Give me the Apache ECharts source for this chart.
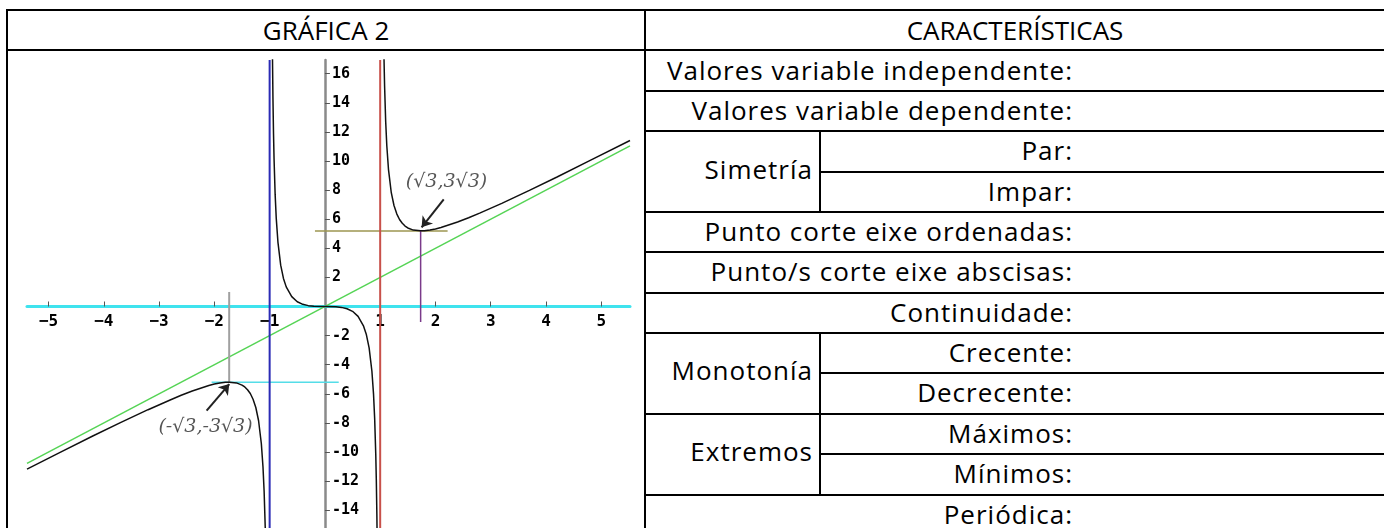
<!DOCTYPE html>
<html>
<head>
<meta charset="utf-8">
<title>Gráfica 2</title>
<script src="https://cdn.jsdelivr.net/npm/echarts@6.0.0/dist/echarts.min.js"></script>
<style>
  body { margin: 0; background: #fff; }
  #page { position: relative; width: 1384px; height: 528px; overflow: hidden; background: #fff; }
  .hl, .vl { position: absolute; background: #000; }
  .hl { height: 2px; }
  .vl { width: 2px; }
  .txt {
    position: absolute; height: 40px; line-height: 40px;
    font-family: "Open Sans", sans-serif; font-size: 26px; letter-spacing: 1px; color: #000;
    white-space: nowrap;
  }
  .center { text-align: center; letter-spacing: 0; }
  .right { text-align: right; }
  #main { position: absolute; left: 8px; top: 51px; width: 636px; height: 477px; }
</style>
</head>
<body>
<div id="page">
  <!-- borders -->
  <div class="hl" style="left:6px;top:9px;width:1378px"></div>
  <div class="hl" style="left:6px;top:49px;width:1378px"></div>
  <div class="vl" style="left:6px;top:9px;height:519px"></div>
  <div class="vl" style="left:644px;top:9px;height:519px"></div>
  <div class="hl" style="left:644px;top:90px;width:740px"></div>
  <div class="hl" style="left:644px;top:130px;width:740px"></div>
  <div class="hl" style="left:820px;top:171px;width:564px"></div>
  <div class="hl" style="left:644px;top:211px;width:740px"></div>
  <div class="hl" style="left:644px;top:251px;width:740px"></div>
  <div class="hl" style="left:644px;top:292px;width:740px"></div>
  <div class="hl" style="left:644px;top:332px;width:740px"></div>
  <div class="hl" style="left:820px;top:372px;width:564px"></div>
  <div class="hl" style="left:644px;top:413px;width:740px"></div>
  <div class="hl" style="left:820px;top:453px;width:564px"></div>
  <div class="hl" style="left:644px;top:494px;width:740px"></div>
  <div class="vl" style="left:819px;top:130px;height:83px"></div>
  <div class="vl" style="left:819px;top:332px;height:164px"></div>

  <!-- header -->
  <div class="txt center" style="left:8px;top:10px;width:636px">GRÁFICA 2</div>
  <div class="txt center" style="left:646px;top:10px;width:738px">CARACTERÍSTICAS</div>

  <!-- rows -->
  <div class="txt right" style="left:646px;top:50px;width:427px">Valores variable independente:</div>
  <div class="txt right" style="left:646px;top:90px;width:427px">Valores variable dependente:</div>
  <div class="txt right" style="left:646px;top:149px;width:167px">Simetría</div>
  <div class="txt right" style="left:822px;top:130px;width:251px">Par:</div>
  <div class="txt right" style="left:822px;top:171px;width:251px">Impar:</div>
  <div class="txt right" style="left:646px;top:211px;width:427px">Punto corte eixe ordenadas:</div>
  <div class="txt right" style="left:646px;top:251px;width:427px">Punto/s corte eixe abscisas:</div>
  <div class="txt right" style="left:646px;top:292px;width:427px">Continuidade:</div>
  <div class="txt right" style="left:646px;top:350px;width:167px">Monotonía</div>
  <div class="txt right" style="left:822px;top:332px;width:251px">Crecente:</div>
  <div class="txt right" style="left:822px;top:372px;width:251px">Decrecente:</div>
  <div class="txt right" style="left:646px;top:431px;width:167px">Extremos</div>
  <div class="txt right" style="left:822px;top:413px;width:251px">Máximos:</div>
  <div class="txt right" style="left:822px;top:453px;width:251px">Mínimos:</div>
  <div class="txt right" style="left:646px;top:494px;width:427px">Periódica:</div>

  <div id="main"></div>
</div>

<script>
  // axis ticks
  var xTicks = [-5, -4, -3, -2, -1, 1, 2, 3, 4, 5];
  var yTicks = [-14, -12, -10, -8, -6, -4, -2, 2, 4, 6, 8, 10, 12, 14, 16];
  var xRange = [-5.39, 5.52];
  var yRange = [-15.22, 16.94];

  // curve, three branches
  var leftBranch = [
    [-5.39, -11.17], [-4.8, -10.04], [-4.2, -8.9], [-3.7, -7.98], [-3.2, -7.09], [-2.8, -6.42],
    [-2.6, -6.1], [-2.4, -5.81], [-2.1, -5.43], [-2.0, -5.33], [-1.9, -5.26], [-1.8, -5.21],
    [-1.73, -5.2], [-1.6, -5.25], [-1.5, -5.4], [-1.45, -5.53], [-1.4, -5.72], [-1.35, -5.98],
    [-1.3, -6.37], [-1.25, -6.94], [-1.2, -7.85], [-1.15, -9.43], [-1.12, -11.05], [-1.1, -12.68],
    [-1.08, -15.14], [-1.07, -16.91], [-1.06, -19.27]
  ];
  var middleBranch = [
    [-0.95, 17.59], [-0.94, 14.27], [-0.93, 11.91], [-0.92, 10.14], [-0.9, 7.67], [-0.88, 6.04],
    [-0.85, 4.43], [-0.8, 2.84], [-0.75, 1.93], [-0.7, 1.35], [-0.6, 0.68], [-0.5, 0.33],
    [-0.4, 0.15], [-0.3, 0.06], [-0.2, 0.02], [0, 0], [0.2, -0.02], [0.3, -0.06], [0.4, -0.15],
    [0.5, -0.33], [0.6, -0.68], [0.7, -1.35], [0.75, -1.93], [0.8, -2.84], [0.85, -4.43],
    [0.88, -6.04], [0.9, -7.67], [0.92, -10.14], [0.93, -11.91], [0.94, -14.27], [0.95, -17.59]
  ];
  var rightBranch = [
    [1.06, 19.27], [1.07, 16.91], [1.08, 15.14], [1.1, 12.68], [1.12, 11.05], [1.15, 9.43],
    [1.2, 7.85], [1.25, 6.94], [1.3, 6.37], [1.35, 5.98], [1.4, 5.72], [1.45, 5.53], [1.5, 5.4],
    [1.6, 5.25], [1.73, 5.2], [1.8, 5.21], [1.9, 5.26], [2.0, 5.33], [2.1, 5.43], [2.4, 5.81],
    [2.6, 6.1], [2.8, 6.42], [3.2, 7.09], [3.7, 7.98], [4.2, 8.9], [4.8, 10.04], [5.52, 11.41]
  ];

  // asymptotes and guide lines
  var obliqueLine = [[-5.39, -10.78], [5.52, 11.04]];
  var blueLine = [[-1, -15.22], [-1, 16.94]];
  var redLine = [[1, -15.22], [1, 16.94]];
  var maxGuideH = [[-2.05, -5.196], [0.25, -5.196]];
  var maxGuideV = [[-1.732, 1.0], [-1.732, -5.196]];
  var minGuideH = [[-0.18, 5.196], [2.22, 5.196]];
  var minGuideV = [[1.732, 5.196], [1.732, -1.07]];

  // annotations
  var notes = [
    { name: '(√3,3√3)', value: [2.2, 8.58] },
    { name: '(-√3,-3√3)', value: [-2.16, -8.3] }
  ];
  var arrows = [
    { coords: [[2.15, 7.37], [1.75, 5.44]] },
    { coords: [[-2.14, -7.16], [-1.73, -5.33]] }
  ];

  function seg(data, color, width) {
    return {
      type: 'line', data: data, symbol: 'none', silent: true,
      lineStyle: { color: color, width: width }
    };
  }

  var gridLeft = 19, gridTop = 9, gridWidth = 603, gridHeight = 468;
  // move the axes onto the zero lines
  var xOffset = -gridHeight * (0 - yRange[0]) / (yRange[1] - yRange[0]);
  var yOffset = -gridWidth * (0 - xRange[0]) / (xRange[1] - xRange[0]);

  var myChart = echarts.init(document.getElementById('main'));
  myChart.setOption({
    animation: false,
    grid: { left: gridLeft, top: gridTop, width: gridWidth, height: gridHeight, outerBoundsMode: 'none' },
    xAxis: {
      type: 'value', min: xRange[0], max: xRange[1], position: 'bottom', offset: xOffset,
      axisLine: { onZero: false, lineStyle: { color: '#3fe3ee', width: 3 } },
      axisTick: { inside: true, length: 5, customValues: xTicks, lineStyle: { color: '#555' } },
      axisLabel: {
        customValues: xTicks, margin: 7, color: '#000',
        fontFamily: 'DejaVu Sans Mono', fontWeight: 'bold', fontSize: 16,
        formatter: function (v) { return String(v).replace('-', '\u2212'); }
      },
      splitLine: { show: false }
    },
    yAxis: {
      type: 'value', min: yRange[0], max: yRange[1], position: 'left', offset: yOffset,
      axisLine: { onZero: false, lineStyle: { color: '#8a8a8a', width: 2.5 } },
      axisTick: { inside: true, length: 5, customValues: yTicks, lineStyle: { color: '#555' } },
      axisLabel: {
        inside: true, customValues: yTicks, margin: 7, color: '#000',
        fontFamily: 'DejaVu Sans Mono', fontWeight: 'bold', fontSize: 15
      },
      splitLine: { show: false }
    },
    series: [
      seg(obliqueLine, '#55d455', 1.5),
      seg(maxGuideH, '#55dde8', 1.5),
      seg(maxGuideV, '#a0a0a0', 2),
      seg(minGuideH, '#9c9650', 1.5),
      seg(minGuideV, '#7a3a8a', 1.5),
      seg(leftBranch, '#111', 1.5),
      seg(middleBranch, '#111', 1.5),
      seg(rightBranch, '#111', 1.5),
      seg(blueLine, '#2b2bb5', 2),
      seg(redLine, '#c8504a', 2),
      {
        type: 'lines', coordinateSystem: 'cartesian2d', silent: true,
        symbol: ['none', 'arrow'], symbolSize: 10,
        lineStyle: { color: '#222', width: 2, opacity: 1 },
        data: arrows
      },
      {
        type: 'scatter', symbolSize: 0, silent: true, data: notes,
        label: {
          show: true, position: 'inside', formatter: '{b}',
          fontFamily: 'DejaVu Serif', fontStyle: 'italic', fontSize: 19, color: '#2a2a2a'
        }
      }
    ]
  });
</script>
</body>
</html>
